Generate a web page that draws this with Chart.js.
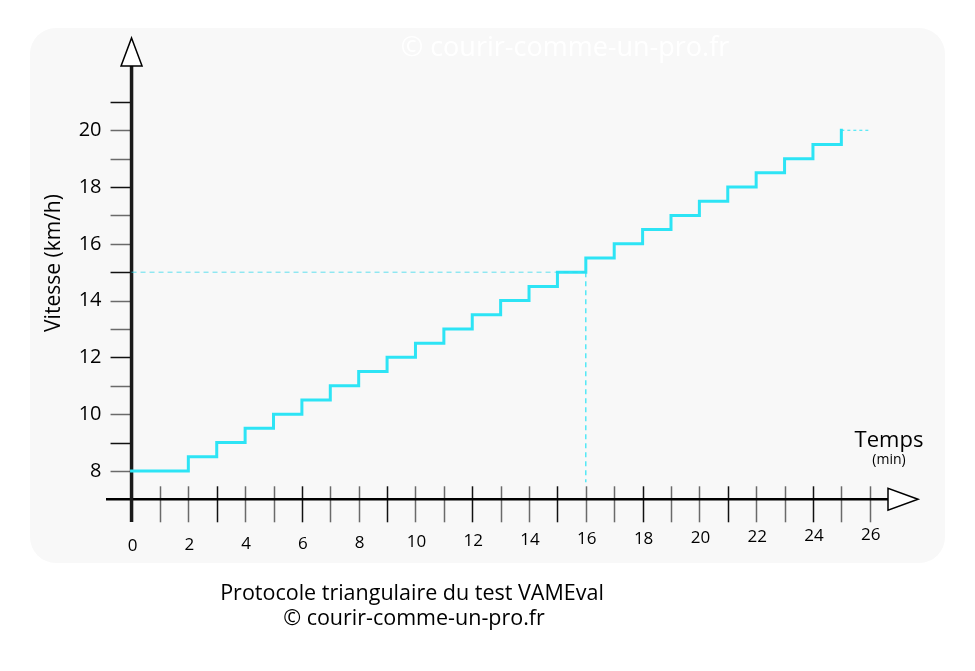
<!DOCTYPE html>
<html>
<head>
<meta charset="utf-8">
<script src="https://cdn.jsdelivr.net/npm/chart.js@4.4.1/dist/chart.umd.min.js"></script>
<style>
  html, body { margin: 0; padding: 0; background: #ffffff; }
  canvas { display: block; }
</style>
</head>
<body>
<canvas id="chart" width="975" height="671"></canvas>
<script>
// paliers du test VAMEval : début de chaque palier (min) et vitesse (km/h)
const minutes = [0, 2, 3, 4, 5, 6, 7, 8, 9, 10, 11, 12, 13, 14, 15, 16, 17, 18, 19, 20, 21, 22, 23, 24, 25];
const speeds = [8, 8.5, 9, 9.5, 10, 10.5, 11, 11.5, 12, 12.5, 13, 13.5, 14, 14.5, 15, 15.5, 16, 16.5, 17, 17.5, 18, 18.5, 19, 19.5, 20];
const tailMinutes = [25, 26];
const tailSpeeds = [20, 20];
// repère à 16 min / 15 km/h
const refHMinutes = [0, 16];
const refHSpeeds = [15, 15];
const refVMinutes = [16, 16];
const refVSpeeds = [15, 7.6];

const xTickLabels = ['0', '2', '4', '6', '8', '10', '12', '14', '16', '18', '20', '22', '24', '26'];
const yTickLabels = ['8', '10', '12', '14', '16', '18', '20'];
const xTickMarks = [1, 2, 3, 4, 5, 6, 7, 8, 9, 10, 11, 12, 13, 14, 15, 16, 17, 18, 19, 20, 21, 22, 23, 24, 25, 26];
const yTickMarks = [8, 9, 10, 11, 12, 13, 14, 15, 16, 17, 18, 19, 20, 21];

const FONT = '"Open Sans", "Noto Sans", sans-serif';
const CYAN = 'rgb(45, 228, 245)';

const pts = (xs, ys) => xs.map((x, i) => ({ x: x, y: ys[i] }));

const axesPlugin = {
  id: 'axes',
  beforeDraw(chart) {
    const ctx = chart.ctx;
    ctx.save();
    ctx.fillStyle = '#f8f8f8';
    ctx.beginPath();
    ctx.roundRect(30, 28, 915, 535, 26);
    ctx.fill();
    // filigrane
    ctx.fillStyle = '#ffffff';
    ctx.font = '27px ' + FONT;
    ctx.textAlign = 'center';
    ctx.textBaseline = 'middle';
    ctx.fillText('© courir-comme-un-pro.fr', 565, 48);
    ctx.restore();
  },
  beforeDatasetsDraw(chart) {
    const ctx = chart.ctx;
    const xs = chart.scales.x, ys = chart.scales.y;
    const x0 = xs.getPixelForValue(0);
    const y7 = ys.getPixelForValue(7);
    ctx.save();

    // graduations verticales
    ctx.lineWidth = 1.5;
    xTickMarks.forEach((t, i) => {
      ctx.strokeStyle = i % 3 === 2 ? '#111' : '#6a6a6a';
      const px = Math.round(xs.getPixelForValue(t)) + 0.5;
      ctx.beginPath();
      ctx.moveTo(px, y7 - 13);
      ctx.lineTo(px, y7 + 23);
      ctx.stroke();
    });
    // graduations horizontales
    yTickMarks.forEach((v, i) => {
      ctx.strokeStyle = i % 3 === 1 ? '#111' : '#6a6a6a';
      const py = Math.round(ys.getPixelForValue(v)) + 0.5;
      ctx.beginPath();
      ctx.moveTo(x0 - 21, py);
      ctx.lineTo(x0, py);
      ctx.stroke();
    });

    // axe des x
    ctx.strokeStyle = '#000';
    ctx.lineWidth = 2.5;
    ctx.beginPath();
    ctx.moveTo(xs.getPixelForValue(-0.9), y7);
    ctx.lineTo(xs.getPixelForValue(26.7), y7);
    ctx.stroke();
    // axe des y
    ctx.strokeStyle = '#1a1a1a';
    ctx.lineWidth = 3.5;
    ctx.beginPath();
    ctx.moveTo(x0, ys.getPixelForValue(6.2));
    ctx.lineTo(x0, ys.getPixelForValue(22.3));
    ctx.stroke();

    // flèches
    ctx.fillStyle = '#ffffff';
    ctx.strokeStyle = '#000';
    ctx.lineWidth = 1.5;
    const yTop = ys.getPixelForValue(23.25);
    ctx.beginPath();
    ctx.moveTo(x0, yTop);
    ctx.lineTo(x0 + 10.5, yTop + 28);
    ctx.lineTo(x0 - 10.5, yTop + 28);
    ctx.closePath();
    ctx.fill();
    ctx.stroke();
    const xEnd = xs.getPixelForValue(27.7);
    ctx.beginPath();
    ctx.moveTo(xEnd, y7);
    ctx.lineTo(xEnd - 30, y7 - 11);
    ctx.lineTo(xEnd - 30, y7 + 11);
    ctx.closePath();
    ctx.fill();
    ctx.stroke();

    // étiquettes
    ctx.fillStyle = '#000';
    ctx.textAlign = 'center';
    ctx.textBaseline = 'middle';
    ctx.font = '17px ' + FONT;
    xTickLabels.forEach(l => {
      const t = Number(l);
      ctx.fillText(l, xs.getPixelForValue(t) + 1, y7 + 47 - t * 0.42);
    });
    ctx.font = '20px ' + FONT;
    ctx.textAlign = 'right';
    yTickLabels.forEach(l => {
      ctx.fillText(l, x0 - 30, ys.getPixelForValue(Number(l)));
    });

    // titres
    ctx.textAlign = 'center';
    ctx.font = '22px ' + FONT;
    ctx.fillText('Temps', 889, 441);
    ctx.font = '14px ' + FONT;
    ctx.fillText('(min)', 889, 460);
    ctx.save();
    ctx.translate(54, 263);
    ctx.rotate(-Math.PI / 2);
    ctx.font = '21px ' + FONT;
    ctx.fillText('Vitesse (km/h)', 0, 0);
    ctx.restore();

    ctx.font = '21.5px ' + FONT;
    ctx.fillText('Protocole triangulaire du test VAMEval', 412, 594);
    ctx.fillText('© courir-comme-un-pro.fr', 414, 619);
    ctx.restore();
  }
};

new Chart(document.getElementById('chart'), {
  type: 'line',
  data: {
    datasets: [
      {
        data: pts(refHMinutes, refHSpeeds),
        borderColor: 'rgba(45, 215, 235, 0.75)',
        borderWidth: 1,
        borderDash: [5, 4],
        pointRadius: 0
      },
      {
        data: pts(refVMinutes, refVSpeeds),
        borderColor: CYAN,
        borderWidth: 1.2,
        borderDash: [5, 4],
        pointRadius: 0
      },
      {
        data: pts(tailMinutes, tailSpeeds),
        borderColor: CYAN,
        borderWidth: 1,
        borderDash: [3, 3],
        pointRadius: 0
      },
      {
        data: pts(minutes, speeds),
        borderColor: CYAN,
        borderWidth: 3,
        stepped: 'before',
        pointRadius: 0,
        borderCapStyle: 'square'
      }
    ]
  },
  options: {
    responsive: false,
    animation: false,
    events: [],
    layout: { padding: { left: 106, right: 57, top: 38, bottom: 149 } },
    plugins: { legend: { display: false }, tooltip: { enabled: false } },
    scales: {
      x: { type: 'linear', min: -0.9, max: 27.7, display: false },
      y: { type: 'linear', min: 6.2, max: 23.25, display: false }
    }
  },
  plugins: [axesPlugin]
});
</script>
</body>
</html>
